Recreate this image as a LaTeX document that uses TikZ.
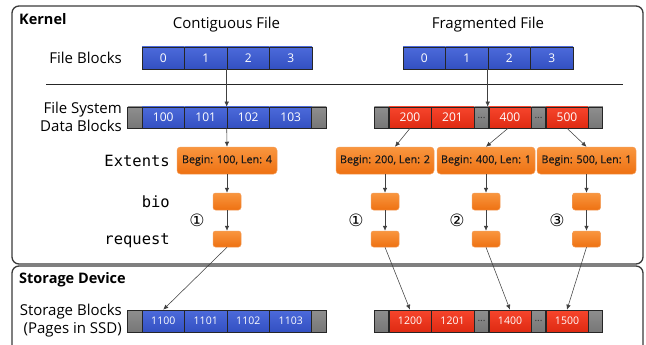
\documentclass[tikz,border=0pt]{standalone}
\usepackage{fontspec}
\setmainfont{Open Sans}
\setmonofont{DejaVu Sans Mono}
\newfontfamily\symfont{DejaVu Sans}
\usetikzlibrary{arrows.meta}

\definecolor{blueTop}{HTML}{4C6ADA}
\definecolor{blueBot}{HTML}{3350C2}
\definecolor{redTop}{HTML}{F6452C}
\definecolor{redBot}{HTML}{DF2A12}
\definecolor{orTop}{HTML}{F9963F}
\definecolor{orBot}{HTML}{EE7112}
\definecolor{greyTop}{HTML}{8E8E8E}
\definecolor{greyBot}{HTML}{777777}
\definecolor{frameCol}{HTML}{3A3A3A}

\tikzset{
  cell/.style={draw=black!85, line width=0.6pt, minimum height=22pt, inner sep=0pt,
    text=white, font=\fontsize{12}{12}\selectfont},
  bluecell/.style={cell, top color=blueTop, bottom color=blueBot, minimum width=42.5pt},
  redcell/.style={cell, top color=redTop, bottom color=redBot, minimum width=42.5pt},
  greycell/.style={cell, top color=greyTop, bottom color=greyBot, minimum width=14.5pt,
    text=black!80, font=\fontsize{10}{10}\selectfont},
  storecell/.style={font=\fontsize{10.5}{10.5}\selectfont},
  extbox/.style={rounded corners=3.5pt, top color=orTop, bottom color=orBot,
    draw=orBot!70!white, line width=0.5pt, minimum height=27pt, inner sep=0pt,
    font=\addfontfeature{FakeBold=0.6}\fontsize{10.8}{10.8}\selectfont, text=black!90},
  minibox/.style={rounded corners=2.5pt, top color=orTop, bottom color=orBot,
    draw=orBot!70!white, line width=0.5pt, minimum width=28pt, minimum height=17pt, inner sep=0pt},
  conn/.style={draw=black!75, line width=0.55pt, -{Latex[length=5pt,width=4.5pt]}},
  frame/.style={draw=frameCol, line width=1.3pt, rounded corners=7pt},
  label/.style={inner sep=0pt, font=\fontsize{15}{18}\selectfont},
  monolab/.style={inner sep=0pt, anchor=base east, font=\ttfamily\fontsize{15.5}{15.5}\selectfont},
  heading/.style={inner sep=0pt, anchor=west, font=\bfseries\fontsize{14.5}{14.5}\selectfont},
  circnum/.style={inner sep=0pt, font=\symfont\fontsize{17}{17}\selectfont}
}

\begin{document}
\begin{tikzpicture}[x=1pt,y=-1pt]
\useasboundingbox (0,0) rectangle (646,345);

% Kernel and storage frames
\draw[frame] (12,6) rectangle (643,264);
\draw[frame] (12,266) rectangle (643,380);
\node[heading] (kernel) at (19,19) {Kernel};
\node[heading] (storage) at (19,280) {Storage Device};

% Titles
\node[label] (tcont) at (226.5,25) {Contiguous File};
\node[label] (tfrag) at (488,25) {Fragmented File};

% Row labels
\node[label, anchor=east] (lfile) at (122,58) {File Blocks};
\node[label, anchor=east, align=right] (ldata) at (122,117) {File System\\Data Blocks};
\node[label, anchor=east, align=right] (lstore) at (122,321) {Storage Blocks\\(Pages in SSD)};
\node[monolab] (lext) at (170,166.5) {Extents};
\node[monolab] (lbio) at (170,207) {bio};
\node[monolab] (lreq) at (170,244.5) {request};

% Separator
\draw[black!85, line width=0.7pt] (46,84) -- (623,84);

% File blocks
\foreach \i in {0,1,2,3} {
  \node[bluecell] (cf\i) at ({163.25+42.5*\i},58) {\i};
  \node[bluecell] (ff\i) at ({424.25+42.5*\i},58) {\i};
}

% Contiguous data blocks
\node[greycell, minimum height=21pt] (cdl) at (135,117.5) {};
\foreach \i/\t in {0/100,1/101,2/102,3/103}
  \node[bluecell, minimum height=21pt] (cd\t) at ({163.25+42.5*\i},117.5) {\t};
\node[greycell, minimum height=21pt] (cdr) at (319,117.5) {};

% Fragmented data blocks
\node[greycell, minimum height=21pt] (fdl) at (381.5,117.5) {};
\node[redcell, minimum height=21pt, minimum width=42pt] (fd200) at (410,117.5) {200};
\node[redcell, minimum height=21pt, minimum width=43pt] (fd201) at (452.5,117.5) {201};
\node[greycell, minimum height=21pt] (fdd1) at (481.5,117.5) {...};
\node[redcell, minimum height=21pt, minimum width=42pt] (fd400) at (510,117.5) {400};
\node[greycell, minimum height=21pt] (fdd2) at (538.5,117.5) {...};
\node[redcell, minimum height=21pt, minimum width=42pt] (fd500) at (567,117.5) {500};
\node[greycell, minimum height=21pt] (fdr) at (595.5,117.5) {};

% Storage blocks
\node[greycell] (sl) at (135,321) {};
\foreach \i/\t in {0/1100,1/1101,2/1102,3/1103}
  \node[bluecell, storecell] (s\t) at ({163.25+42.5*\i},321) {\t};
\node[greycell] (sr) at (319,321) {};

\node[greycell] (gl) at (381.5,321) {};
\node[redcell, storecell, minimum width=42pt] (s1200) at (410,321) {1200};
\node[redcell, storecell, minimum width=43pt] (s1201) at (452.5,321) {1201};
\node[greycell] (gd1) at (481.5,321) {...};
\node[redcell, storecell, minimum width=42pt] (s1400) at (510,321) {1400};
\node[greycell] (gd2) at (538.5,321) {...};
\node[redcell, storecell, minimum width=42pt] (s1500) at (567,321) {1500};
\node[greycell] (gr) at (595.5,321) {};

% Extents
\node[extbox, minimum width=100pt] (ext0) at (227,160.5) {Begin: 100, Len: 4};
\node[extbox, minimum width=98pt] (ext1) at (385,160.5) {Begin: 200, Len: 2};
\node[extbox, minimum width=98pt] (ext2) at (486,160.5) {Begin: 400, Len: 1};
\node[extbox, minimum width=99pt] (ext3) at (586.5,160.5) {Begin: 500, Len: 1};

% bio and request boxes
\foreach \n/\x in {0/227,1/385,2/486,3/586.5} {
  \node[minibox] (bio\n) at (\x,201.5) {};
  \node[minibox, minimum height=16pt] (req\n) at (\x,239) {};
}

% Request numbering
\node[circnum] (n0) at (197,220) {①};
\node[circnum] (n1) at (356,220) {①};
\node[circnum] (n2) at (457,220) {②};
\node[circnum] (n3) at (557,220) {③};

% Connectors: file blocks to data blocks
\draw[conn] (cf2.south west) -- (cd102.north west);
\draw[conn] (ff2.south west) -- (ff2.south west |- fd400.north);

% Data blocks to extents
\draw[conn] (cd102.south west) -- (ext0.north);
\draw[conn] (fd200.south) -- ([xshift=10pt]ext1.north);
\draw[conn] ([xshift=-2pt]fd400.south) -- (ext2.north);
\draw[conn] (fd500.south) -- (ext3.north);

% Extents to bio to request
\foreach \n in {0,1,2,3} {
  \draw[conn] (ext\n.south) -- (bio\n.north);
  \draw[conn] (bio\n.south) -- (req\n.north);
}

% Requests to storage blocks
\draw[conn] (req0.south) -- (s1100.north);
\draw[conn] (req1.south) -- (s1200.north);
\draw[conn] (req2.south) -- (s1400.north);
\draw[conn] (req3.south) -- (s1500.north);
\end{tikzpicture}
\end{document}
